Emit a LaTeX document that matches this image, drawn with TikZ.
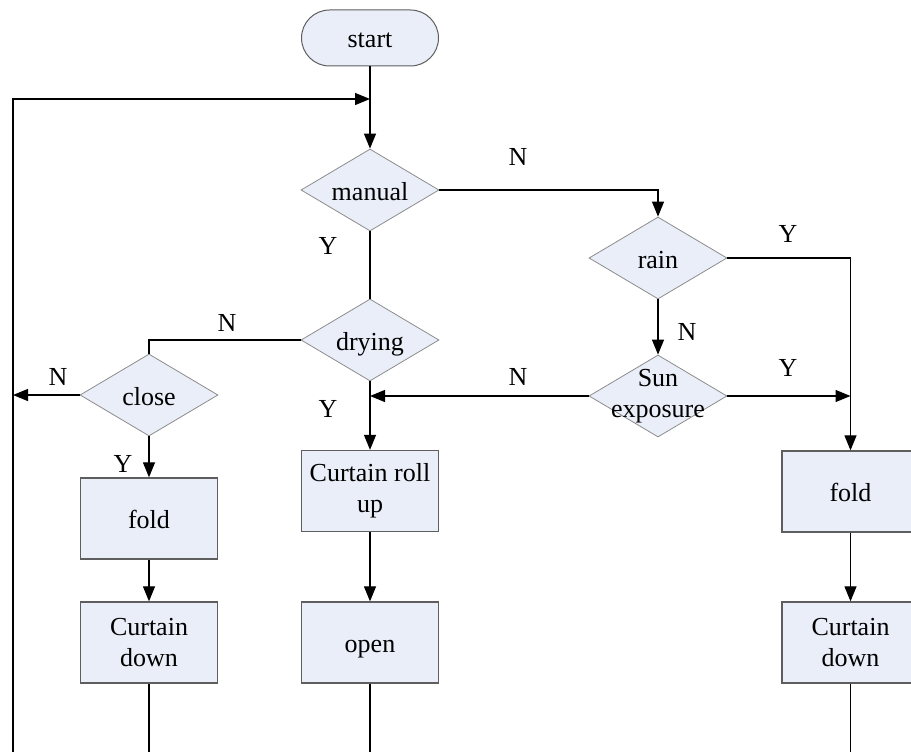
\documentclass[tikz,border=0pt]{standalone}
\usepackage{fontspec}
\setmainfont{Liberation Serif}
\usetikzlibrary{shapes.geometric,arrows.meta}
\definecolor{boxfill}{HTML}{EAEEF8}
\definecolor{boxline}{HTML}{5E5E5E}
\definecolor{decline}{HTML}{8C8C8C}
\begin{document}
\begin{tikzpicture}[x=1pt,y=-1pt,
  every node/.style={font=\fontsize{26}{31}\selectfont},
  one/.style={text height=20pt,text depth=0pt,inner sep=0pt},
  proc/.style={draw=boxline,line width=1.3pt,fill=boxfill,minimum width=137pt,minimum height=81pt,inner sep=0pt,align=center},
  term/.style={draw=boxline,line width=1pt,fill=boxfill,rounded corners=28pt,minimum width=137pt,minimum height=56pt,inner sep=0pt},
  dec/.style={diamond,draw=decline,line width=0.8pt,fill=boxfill,minimum width=138pt,minimum height=82pt,inner sep=0pt},
  flow/.style={line width=1.2pt,-{Triangle[length=15pt,width=12pt]}},
  wire/.style={line width=1.2pt},
  yn/.style={one}]
\useasboundingbox (0,0) rectangle (911,752);
\clip (0,0) rectangle (911,752);

% steps and decisions
\node[term,one] (start) at (370,38) {start};
\node[dec,label={[one]center:manual}] (manual) at (370,190) {};
\node[dec,label={[one]center:rain}] (rain) at (658,258) {};
\node[dec,label={[align=center]center:Sun\\exposure}] (sun) at (658,396) {};
\node[dec,label={[one]center:drying}] (drying) at (370,340) {};
\node[dec,label={[one]center:close}] (close) at (149,395) {};
\node[proc,one] (foldL) at (149,518.5) {fold};
\node[proc] (downL) at (149,642.5) {Curtain\\down};
\node[proc] (rollup) at (370,491) {Curtain roll\\up};
\node[proc,one] (open) at (370,642.5) {open};
\node[proc,one] (foldR) at (850.5,491.5) {fold};
\node[proc] (downR) at (850.5,642.5) {Curtain\\down};

% junction points and loose ends
\coordinate (loopin) at (370,99);
\coordinate (leftbot) at (13,752);
\coordinate (leftmid) at (13,395);
\coordinate (sunL) at (370,396);
\coordinate (sunR) at (850.5,396);
\coordinate (endL) at (149,752);
\coordinate (endM) at (370,752);
\coordinate (endR) at (850.5,752);

% connectors
\draw[flow] (start) -- (manual);
\draw[flow] (leftbot) |- (loopin);
\draw[wire] (manual) -- (drying);
\draw[flow] (manual.east) -| (rain.north);
\draw[flow] (rain.east) -| (foldR.north);
\draw[flow] (rain) -- (sun);
\draw[flow] (sun.east) -- (sunR);
\draw[flow] (sun.west) -- (sunL);
\draw[wire] (drying.west) -| (close.north);
\draw[flow] (close.west) -- (leftmid);
\draw[flow] (close) -- (foldL);
\draw[flow] (foldL) -- (downL);
\draw[flow] (drying) -- (rollup);
\draw[flow] (rollup) -- (open);
\draw[flow] (foldR) -- (downR);
\draw[wire] (downL) -- (endL);
\draw[wire] (open) -- (endM);
\draw[wire] (downR) -- (endR);

% branch labels
\node[yn] (nManual) at (518,155) {N};
\node[yn] (yManual) at (328,244) {Y};
\node[yn] (yRain) at (788,232) {Y};
\node[yn] (nRain) at (687,330) {N};
\node[yn] (ySun) at (788,366) {Y};
\node[yn] (nSun) at (518,375) {N};
\node[yn] (nDrying) at (227,321) {N};
\node[yn] (yDrying) at (328,407) {Y};
\node[yn] (nClose) at (58,375) {N};
\node[yn] (yClose) at (123,462) {Y};
\end{tikzpicture}
\end{document}
